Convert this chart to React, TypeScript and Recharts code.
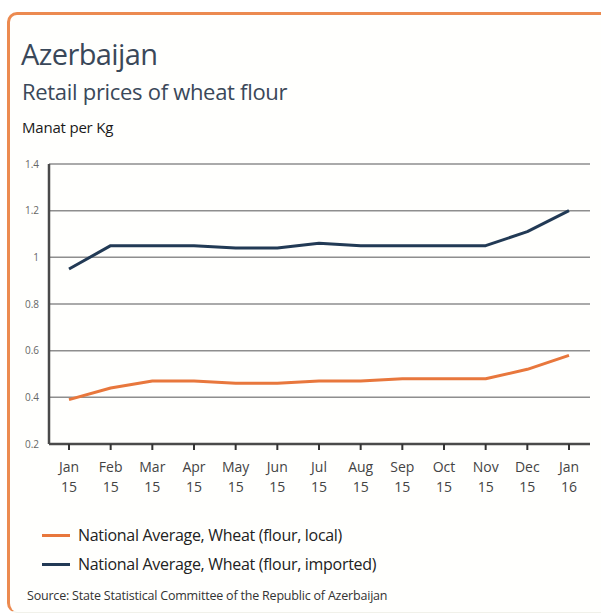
import React from 'react';
import { LineChart, Line, XAxis, YAxis, CartesianGrid } from 'recharts';

const months = ['Jan', 'Feb', 'Mar', 'Apr', 'May', 'Jun', 'Jul', 'Aug', 'Sep', 'Oct', 'Nov', 'Dec', 'Jan'];
const years = ['15', '15', '15', '15', '15', '15', '15', '15', '15', '15', '15', '15', '16'];
const localFlour = [0.39, 0.44, 0.47, 0.47, 0.46, 0.46, 0.47, 0.47, 0.48, 0.48, 0.48, 0.52, 0.58];
const importedFlour = [0.95, 1.05, 1.05, 1.05, 1.04, 1.04, 1.06, 1.05, 1.05, 1.05, 1.05, 1.11, 1.2];
const yTicks = [0.2, 0.4, 0.6, 0.8, 1, 1.2, 1.4];

const series = [
  { key: 'local', name: 'National Average, Wheat (flour, local)', color: '#E8773C' },
  { key: 'imported', name: 'National Average, Wheat (flour, imported)', color: '#223A55' },
];

const FONT = '"Open Sans", sans-serif';

const chartData = months.map((m, i) => ({
  month: `${m} ${years[i]}`,
  local: localFlour[i],
  imported: importedFlour[i],
}));

const MonthTick = ({ x, y, payload }: any) => {
  const [m, yr] = String(payload.value).split(' ');
  return (
    <text x={x} y={y} textAnchor="middle" fill="#444" fontSize={14} fontFamily={FONT}>
      <tspan x={x} dy={20}>{m}</tspan>
      <tspan x={x} dy={20}>{yr}</tspan>
    </text>
  );
};

export default function App() {
  return (
    <div style={{ position: 'absolute', left: 0, top: 0, width: 601, height: 613, background: '#fff', overflow: 'hidden' }}>
      {/* card frame */}
      <div
        style={{
          position: 'absolute',
          left: 7,
          top: 12,
          width: 620,
          height: 597,
          borderTop: '3px solid #EC8A50',
          borderLeft: '3px solid #EC8A50',
          borderBottom: '1px solid #f1f1ea',
          borderRadius: '10px 0 0 10px',
          background: '#fffffd',
        }}
      />
      <div style={{ position: 'absolute', left: 0, top: 0 }}>
        <LineChart
          width={601}
          height={613}
          data={chartData}
          margin={{ top: 164, right: 11, bottom: 119, left: 24 }}
        >
          <CartesianGrid vertical={false} stroke="#8e8e8e" strokeWidth={1.5} />
          <XAxis
            dataKey="month"
            height={50}
            padding={{ left: 20, right: 21 }}
            axisLine={{ stroke: '#4a4a4a', strokeWidth: 2.5 }}
            tickLine={{ stroke: '#333', strokeWidth: 2 }}
            tickSize={6}
            interval={0}
            tick={<MonthTick />}
          />
          <YAxis
            width={25}
            domain={[0.2, 1.4]}
            ticks={yTicks}
            tickFormatter={(v) => String(Number(Number(v).toFixed(1)))}
            axisLine={{ stroke: '#4a4a4a', strokeWidth: 2.5 }}
            tickLine={false}
            tickSize={6}
            tickMargin={4}
            tick={{ fill: '#666', fontSize: 10, fontFamily: FONT }}
          />
          {series.map((s) => (
            <Line
              key={s.key}
              type="linear"
              dataKey={s.key}
              name={s.name}
              stroke={s.color}
              strokeWidth={3}
              strokeLinejoin="round"
              dot={false}
              isAnimationActive={false}
            />
          ))}
        </LineChart>
      </div>

      <div style={{ position: 'absolute', left: 21, top: 39, fontFamily: FONT, fontSize: 29, lineHeight: 1, color: '#3A4859', letterSpacing: -0.6 }}>
        Azerbaijan
      </div>
      <div style={{ position: 'absolute', left: 22, top: 80, fontFamily: FONT, fontSize: 22, lineHeight: 1, color: '#3A4859', letterSpacing: -0.3 }}>
        Retail prices of wheat flour
      </div>
      <div style={{ position: 'absolute', left: 22, top: 120, fontFamily: FONT, fontSize: 15, fontWeight: 500, lineHeight: 1, color: '#1a1a1a', letterSpacing: -0.2 }}>
        Manat per Kg
      </div>

      {series.map((s, i) => (
        <div
          key={s.key}
          style={{ position: 'absolute', left: 42, top: 526 + i * 29, height: 18, display: 'flex', alignItems: 'center', fontFamily: FONT, fontSize: 16, color: '#222', letterSpacing: -0.3 }}
        >
          <span style={{ display: 'inline-block', width: 28, height: 3, background: s.color, marginRight: 8 }} />
          {s.name}
        </div>
      ))}

      <div style={{ position: 'absolute', left: 27, top: 590, fontFamily: FONT, fontSize: 12.5, lineHeight: 1, color: '#333', letterSpacing: -0.2 }}>
        Source: State Statistical Committee of the Republic of Azerbaijan
      </div>
    </div>
  );
}
